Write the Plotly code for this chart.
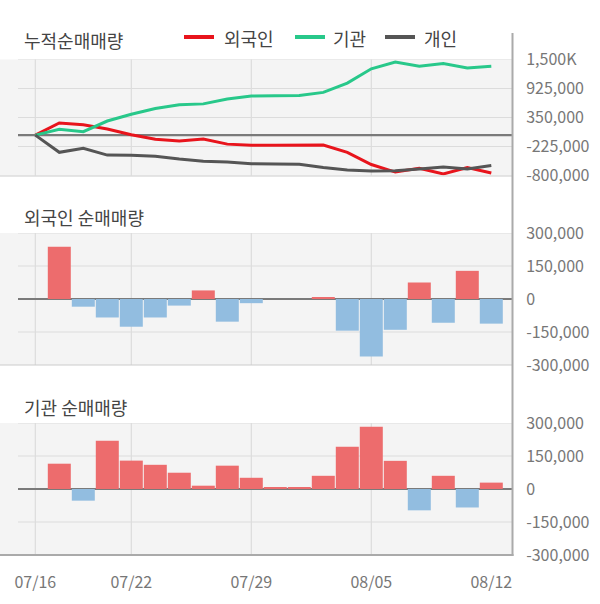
import plotly.graph_objects as go

# ---------------- data ----------------
dates = ["07/16", "07/17", "07/18", "07/19", "07/22", "07/23", "07/24", "07/25", "07/26",
         "07/29", "07/30", "07/31", "08/01", "08/02", "08/05", "08/06", "08/07", "08/08",
         "08/09", "08/12"]
tick_dates = ["07/16", "07/22", "07/29", "08/05", "08/12"]

cum_foreign = [0, 242000, 208000, 123000, 8000, -82000, -116000, -77000, -178000, -200000,
               -198000, -198000, -196000, -340000, -582000, -732000, -657000, -768000, -642000, -750000]
cum_inst = [0, 117000, 68000, 280000, 414000, 528000, 602000, 620000, 715000, 774000,
            780000, 788000, 848000, 1033000, 1315000, 1448000, 1366000, 1420000, 1332000, 1366000]
cum_indiv = [0, -340000, -262000, -395000, -398000, -418000, -472000, -515000, -530000, -565000,
             -570000, -575000, -640000, -690000, -712000, -708000, -672000, -632000, -672000, -602000]

foreign_net = [None, 238000, -35000, -84000, -126000, -84000, -30000, 39000, -103000, -19000,
               0, 0, 6000, -144000, -261000, -140000, 75000, -108000, 128000, -112000]
inst_net = [None, 115000, -53000, 219000, 129000, 110000, 74000, 15000, 106000, 51000,
            6000, 9000, 60000, 192000, 283000, 128000, -97000, 60000, -84000, 29000]

top_ticks = [-800000, -225000, 350000, 925000, 1500000]
top_ticktext = ["-800,000", "-225,000", "350,000", "925,000", "1,500K"]
bar_ticks = [-300000, -150000, 0, 150000, 300000]
bar_ticktext = ["-300,000", "-150,000", "0", "150,000", "300,000"]

# ---------------- styling ----------------
W, H = 600, 604
PLOT_R = 512
FONT = "Noto Sans CJK KR, Noto Sans, sans-serif"
RED_LINE, GREEN_LINE, GRAY_LINE = "#e8141c", "#28c88a", "#555555"
RED_BAR, BLUE_BAR = "#ed6c6d", "#92bde0"
GRID = "#dcdcdc"
TICK_COL = "#777777"

idx = list(range(len(dates)))
tick_idx = [dates.index(d) for d in tick_dates]
x_range = [-35.3 / 24, (PLOT_R - 35.3) / 24]


def py(p):  # pixel y -> paper y
    return (H - p) / H


def px(p):  # pixel x -> paper x
    return p / PLOT_R


dom_top = [py(175.5), py(59.5)]
dom_mid = [py(365), py(233)]
dom_bot = [py(555), py(423)]

fig = go.Figure()

# cumulative lines
for name, vals, col in [("외국인", cum_foreign, RED_LINE), ("기관", cum_inst, GREEN_LINE),
                        ("개인", cum_indiv, GRAY_LINE)]:
    fig.add_trace(go.Scatter(x=idx, y=vals, mode="lines", name=name,
                             line=dict(color=col, width=3), xaxis="x", yaxis="y",
                             showlegend=False))


def bar_colors(vals):
    return [RED_BAR if (v is not None and v >= 0) else BLUE_BAR for v in vals]


fig.add_trace(go.Bar(x=idx, y=foreign_net, width=0.958,
                     marker=dict(color=bar_colors(foreign_net), line=dict(width=0)),
                     xaxis="x2", yaxis="y2", showlegend=False))
fig.add_trace(go.Bar(x=idx, y=inst_net, width=0.958,
                     marker=dict(color=bar_colors(inst_net), line=dict(width=0)),
                     xaxis="x3", yaxis="y3", showlegend=False))

shapes = []
# horizontal gridlines
for yref, ticks in [("y", top_ticks), ("y2", bar_ticks), ("y3", bar_ticks)]:
    for t in ticks[1:]:
        if t == 0:
            continue
        shapes.append(dict(type="line", xref="paper", yref=yref, x0=px(18), x1=1, y0=t, y1=t,
                           line=dict(color=GRID, width=1.2), layer="below"))
# vertical gridlines
for yref in ["y domain", "y2 domain", "y3 domain"]:
    for t in tick_idx[:-1]:
        shapes.append(dict(type="line", xref="x", yref=yref, x0=t, x1=t, y0=0, y1=1,
                           line=dict(color=GRID, width=1.2), layer="below"))
# zero lines
for yref in ["y", "y2", "y3"]:
    shapes.append(dict(type="line", xref="paper", yref=yref, x0=px(18), x1=1, y0=0, y1=0,
                       line=dict(color="#7a7a7a", width=2.2), layer="between"))
# bottom borders
shapes.append(dict(type="line", xref="paper", yref="paper", x0=0, x1=1, y0=py(176), y1=py(176),
                   line=dict(color="#cccccc", width=1.2)))
shapes.append(dict(type="line", xref="paper", yref="paper", x0=0, x1=1, y0=py(365), y1=py(365),
                   line=dict(color="#cccccc", width=1.2)))
shapes.append(dict(type="line", xref="paper", yref="paper", x0=0, x1=px(513.5), y0=py(555), y1=py(555),
                   line=dict(color="#aaaaaa", width=2)))
# right axis line
shapes.append(dict(type="line", xref="paper", yref="paper", x0=px(512.5), x1=px(512.5), y0=py(33), y1=py(556),
                   line=dict(color="#aaaaaa", width=2)))
# legend line symbols
leg_y = py(37)
for x0, x1, col in [(184, 214, RED_LINE), (295, 325, GREEN_LINE), (385, 415, GRAY_LINE)]:
    shapes.append(dict(type="line", xref="paper", yref="paper", x0=px(x0), x1=px(x1), y0=leg_y, y1=leg_y,
                       line=dict(color=col, width=4)))

annotations = []
for text, yc in [("누적순매매량", 40), ("외국인 순매매량", 217), ("기관 순매매량", 407)]:
    annotations.append(dict(text=text, xref="paper", yref="paper", x=px(22), y=py(yc), xanchor="left",
                            yanchor="middle", showarrow=False, font=dict(family=FONT, size=18, color="#444444")))
for text, x0 in [("외국인", 222), ("기관", 331), ("개인", 422)]:
    annotations.append(dict(text=text, xref="paper", yref="paper", x=px(x0), y=py(38), xanchor="left",
                            yanchor="middle", showarrow=False, font=dict(family=FONT, size=18, color="#444444")))

tickfont = dict(family=FONT, size=16, color=TICK_COL)
common_x = dict(range=x_range, showgrid=False, zeroline=False, showline=False, fixedrange=True,
                automargin=False)
common_y = dict(side="right", showgrid=False, zeroline=False, showline=False, ticks="outside",
                ticklen=10, tickcolor="rgba(0,0,0,0)", tickfont=tickfont, automargin=False)

fig.update_layout(
    template="none",
    width=W, height=H,
    margin=dict(l=0, r=W - PLOT_R, t=0, b=0, pad=0, autoexpand=False),
    paper_bgcolor="white", plot_bgcolor="#f4f4f4",
    barmode="overlay",
    showlegend=False,
    xaxis=dict(**common_x, anchor="y", showticklabels=False, ticks=""),
    xaxis2=dict(**common_x, anchor="y2", showticklabels=False, ticks=""),
    xaxis3=dict(**common_x, anchor="y3", tickvals=tick_idx, ticktext=tick_dates, ticks="outside",
                ticklen=13, tickcolor="rgba(0,0,0,0)", tickfont=tickfont),
    yaxis=dict(**common_y, domain=dom_top, range=[-800000, 1500000], tickvals=top_ticks,
               ticktext=top_ticktext, anchor="x"),
    yaxis2=dict(**common_y, domain=dom_mid, range=[-300000, 300000], tickvals=bar_ticks,
                ticktext=bar_ticktext, anchor="x2"),
    yaxis3=dict(**common_y, domain=dom_bot, range=[-300000, 300000], tickvals=bar_ticks,
                ticktext=bar_ticktext, anchor="x3"),
    shapes=shapes,
    annotations=annotations,
)

fig.write_html("out.html")
